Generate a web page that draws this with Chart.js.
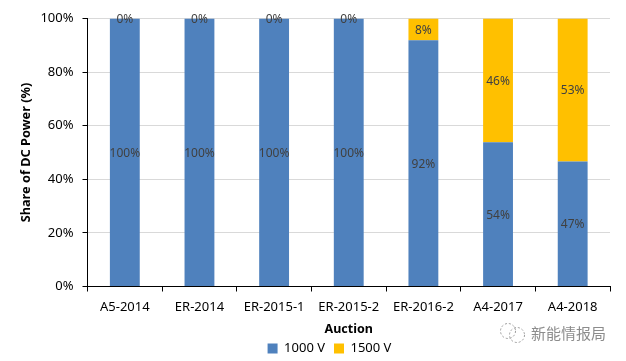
<!DOCTYPE html>
<html><head><meta charset="utf-8">
<style>html,body{margin:0;padding:0;background:#fff}#w{position:relative;width:626px;height:361px}</style>
<script src="https://cdn.jsdelivr.net/npm/chart.js@4"></script>
</head><body><div id="w"><canvas id="c" width="626" height="361"></canvas></div>
<script>
const categories=["A5-2014","ER-2014","ER-2015-1","ER-2015-2","ER-2016-2","A4-2017","A4-2018"];
const series1000=[100,100,100,100,91.9,53.8,46.6];
const series1500=[0,0,0,0,8.1,46.2,53.4];
const FONT='"Noto Sans", sans-serif';
const labelPlugin={id:'labels',afterDatasetsDraw(chart){
  const ctx=chart.ctx;ctx.save();
  ctx.font='12px '+FONT;ctx.fillStyle='#404040';ctx.textAlign='center';ctx.textBaseline='middle';
  chart.data.datasets.forEach((ds,i)=>{
    chart.getDatasetMeta(i).data.forEach((el,j)=>{
      const c=el.getCenterPoint();
      ctx.fillText(Math.round(ds.data[j])+'%',c.x,c.y+1);
    });
  });
  ctx.restore();
}};
const legendShift={id:'legendShift',afterLayout(chart){
  chart.legend.left+=15;chart.legend.right+=15;
}};
const markPlugin={id:'mark',afterDraw(chart){
  const ctx=chart.ctx;ctx.save();
  ctx.strokeStyle='#9a9a9a';ctx.lineWidth=1;ctx.setLineDash([2,2]);
  ctx.beginPath();ctx.arc(508,331,7.5,0,Math.PI*2);ctx.stroke();
  ctx.beginPath();ctx.arc(517,335,7.5,0,Math.PI*2);ctx.stroke();
  ctx.setLineDash([]);
  ctx.font='15px "Noto Sans CJK SC", sans-serif';ctx.fillStyle='#8c8c8c';ctx.textAlign='left';ctx.textBaseline='middle';
  ctx.fillText('新能情报局',531,333);
  ctx.restore();
}};
new Chart(document.getElementById('c'),{
  type:'bar',
  data:{labels:categories,datasets:[
    {label:'1000 V',data:series1000,backgroundColor:'#4f81bd',stack:'s',categoryPercentage:1,barPercentage:0.4},
    {label:'1500 V',data:series1500,backgroundColor:'#ffc000',stack:'s',categoryPercentage:1,barPercentage:0.4}
  ]},
  options:{
    responsive:false,animation:false,
    layout:{padding:{left:19,right:16,top:18.5,bottom:-4}},
    scales:{
      x:{stacked:true,
        title:{display:true,text:'Auction',color:'#000',font:{family:FONT,size:12.5,weight:'bold'},padding:{top:0,bottom:-4}},
        ticks:{color:'#000',font:{family:FONT,size:13},padding:8,maxRotation:0,autoSkip:false},
        grid:{drawOnChartArea:false,color:'#000',tickColor:'#000',tickLength:5,offset:true},
        border:{color:'#000',width:1},
        afterFit(s){s.height=46.5}},
      y:{stacked:true,min:0,max:100,
        title:{display:true,text:'Share of DC Power (%)',color:'#000',font:{family:FONT,size:12.75,weight:'bold'},padding:{top:0,bottom:4}},
        ticks:{stepSize:20,color:'#000',font:{family:FONT,size:13},padding:9,callback:v=>v+'%'},
        grid:{color:'#d9d9d9',tickColor:'#000',tickLength:5},
        border:{color:'#000',width:1},
        afterFit(s){s.width=68.5}}
    },
    plugins:{
      legend:{position:'bottom',labels:{boxWidth:10,boxHeight:10,color:'#000',padding:9,font:{family:FONT,size:13}}},
      tooltip:{enabled:false}
    }
  },
  plugins:[legendShift,labelPlugin,markPlugin]
});
</script></body></html>
